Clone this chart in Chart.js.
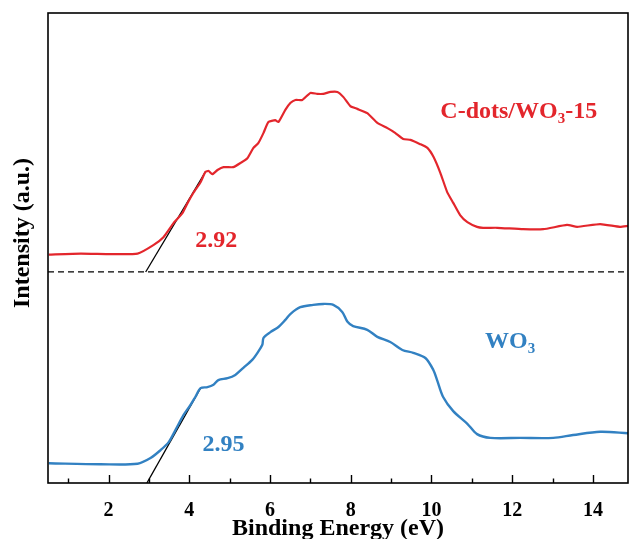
<!DOCTYPE html>
<html>
<head>
<meta charset="utf-8">
<script src="https://cdn.jsdelivr.net/npm/chart.js@4.4.1/dist/chart.umd.min.js"></script>
<style>
  html, body { margin: 0; padding: 0; background: #fff; }
  canvas { display: block; }
</style>
</head>
<body>
<canvas id="vb-chart" width="630" height="539"></canvas>
<script>
// Valence band XPS, binding energy (eV) vs intensity (a.u.)
const compositeEnergy = [0.52, 1.31, 2.05, 2.72, 3.11, 3.36, 3.61, 3.83, 3.96, 4.10, 4.28, 4.40, 4.48, 4.57, 4.70, 4.85, 5.09, 5.27, 5.44, 5.59, 5.71, 5.84, 5.96, 6.13, 6.21, 6.38, 6.51, 6.63, 6.80, 7.00, 7.17, 7.32, 7.50, 7.67, 7.82, 7.99, 8.16, 8.41, 8.66, 8.91, 9.10, 9.30, 9.48, 9.72, 9.90, 10.05, 10.22, 10.39, 10.54, 10.71, 10.89, 11.13, 11.28, 11.63, 12.27, 12.77, 13.36, 13.61, 14.18, 14.67, 14.87];
const compositeIntensity = [48.6, 48.8, 48.7, 48.8, 50.6, 52.3, 55.3, 57.4, 59.6, 61.7, 64.0, 66.2, 66.4, 65.7, 66.6, 67.2, 67.2, 68.1, 69.1, 71.3, 72.3, 74.5, 76.8, 77.2, 76.8, 79.4, 80.9, 81.5, 81.5, 83.0, 82.8, 82.8, 83.2, 83.2, 82.1, 80.2, 79.6, 78.7, 76.6, 75.5, 74.5, 73.2, 73.0, 72.1, 71.3, 69.4, 66.0, 61.9, 59.6, 57.0, 55.5, 54.5, 54.3, 54.3, 54.0, 54.0, 54.9, 54.5, 55.1, 54.5, 54.7];

const wo3Energy = [0.52, 1.80, 2.72, 3.04, 3.29, 3.49, 3.66, 3.86, 4.03, 4.15, 4.28, 4.45, 4.60, 4.72, 4.95, 5.14, 5.34, 5.56, 5.69, 5.81, 5.84, 6.01, 6.21, 6.38, 6.51, 6.75, 7.07, 7.32, 7.57, 7.79, 7.92, 8.06, 8.41, 8.66, 8.98, 9.28, 9.55, 9.85, 10.05, 10.14, 10.29, 10.54, 10.89, 11.13, 11.46, 12.20, 13.02, 13.51, 14.18, 14.87];
const wo3Intensity = [4.2, 4.0, 4.1, 5.3, 7.0, 8.7, 11.3, 14.5, 16.6, 18.3, 20.2, 20.4, 20.9, 21.9, 22.3, 23.0, 24.5, 26.2, 27.7, 29.4, 30.9, 32.1, 33.2, 34.7, 36.0, 37.4, 37.9, 38.1, 37.9, 36.4, 34.3, 33.4, 32.6, 31.1, 30.0, 28.3, 27.7, 26.6, 24.0, 21.9, 18.3, 15.3, 12.6, 10.4, 9.6, 9.6, 9.6, 10.2, 10.9, 10.6];

// linear extrapolation of the band edges
const compositeEdgeEnergy = [2.92, 4.40];
const compositeEdgeIntensity = [44.9, 66.2];
const wo3EdgeEnergy = [2.95, 4.28];
const wo3EdgeIntensity = [0, 20.2];

// separator between the two offset spectra
const separatorEnergy = [0.5, 14.87];
const separatorIntensity = [44.9, 44.9];

const xMajorTicks = [2, 4, 6, 8, 10, 12, 14];
const xMinorTicks = [1, 3, 5, 7, 9, 11, 13];

const RED = '#e3262c';
const BLUE = '#3281c2';
const FONT = '"Liberation Serif", "Times New Roman", serif';

const toPoints = (xs, ys) => xs.map((x, i) => ({ x: x, y: ys[i] }));

// text placed in data units
const annotations = [
    { parts: [['C-dots/WO', 0], ['3', 1], ['-15', 0]], x: 10.22, y: 77.7, color: RED },
    { parts: [['WO', 0], ['3', 1]], x: 11.33, y: 28.7, color: BLUE },
    { parts: [['2.92', 0]], x: 4.15, y: 50.2, color: RED },
    { parts: [['2.95', 0]], x: 4.33, y: 6.8, color: BLUE }
];

const decorations = {
    id: 'decorations',
    afterDatasetsDraw(chart) {
        const { ctx, chartArea: a, scales: { x, y } } = chart;
        ctx.save();

        // frame
        ctx.strokeStyle = '#000';
        ctx.lineWidth = 1.6;
        ctx.strokeRect(a.left, a.top, a.right - a.left, a.bottom - a.top);

        // inward ticks on the energy axis
        ctx.lineWidth = 1.4;
        ctx.beginPath();
        xMajorTicks.forEach(v => {
            const px = Math.round(x.getPixelForValue(v)) + 0.5;
            ctx.moveTo(px, a.bottom);
            ctx.lineTo(px, a.bottom - 8);
        });
        xMinorTicks.forEach(v => {
            const px = Math.round(x.getPixelForValue(v)) + 0.5;
            ctx.moveTo(px, a.bottom);
            ctx.lineTo(px, a.bottom - 4.5);
        });
        ctx.stroke();

        // curve labels
        ctx.textAlign = 'left';
        ctx.textBaseline = 'alphabetic';
        annotations.forEach(ann => {
            let px = x.getPixelForValue(ann.x);
            const py = y.getPixelForValue(ann.y);
            ctx.fillStyle = ann.color;
            ann.parts.forEach(([txt, sub]) => {
                ctx.font = sub ? `bold 15px ${FONT}` : `bold 24px ${FONT}`;
                ctx.fillText(txt, px, sub ? py + 5 : py);
                px += ctx.measureText(txt).width;
            });
        });

        // y title
        ctx.fillStyle = '#000';
        ctx.font = `bold 24px ${FONT}`;
        ctx.textAlign = 'center';
        ctx.textBaseline = 'middle';
        ctx.translate(23, 233);
        ctx.rotate(-Math.PI / 2);
        ctx.fillText('Intensity (a.u.)', 0, 0);

        ctx.restore();
    }
};

const ctx = document.getElementById('vb-chart');

new Chart(ctx, {
    type: 'line',
    data: {
        datasets: [
            {
                label: 'C-dots/WO3-15',
                data: toPoints(compositeEnergy, compositeIntensity),
                borderColor: RED,
                borderWidth: 2.2,
                tension: 0.15
            },
            {
                label: 'WO3',
                data: toPoints(wo3Energy, wo3Intensity),
                borderColor: BLUE,
                borderWidth: 2.4,
                tension: 0.3
            },
            {
                label: 'separator',
                data: toPoints(separatorEnergy, separatorIntensity),
                borderColor: '#000',
                borderWidth: 1.2,
                borderDash: [6, 4]
            },
            {
                label: 'edge C-dots/WO3-15',
                data: toPoints(compositeEdgeEnergy, compositeEdgeIntensity),
                borderColor: '#000',
                borderWidth: 1.3
            },
            {
                label: 'edge WO3',
                data: toPoints(wo3EdgeEnergy, wo3EdgeIntensity),
                borderColor: '#000',
                borderWidth: 1.3
            }
        ]
    },
    options: {
        responsive: false,
        animation: false,
        events: [],
        elements: { point: { radius: 0 } },
        layout: { padding: { left: 48, top: 13, right: 2, bottom: 0 } },
        plugins: {
            legend: { display: false },
            tooltip: { enabled: false }
        },
        scales: {
            x: {
                type: 'linear',
                min: 0.5,
                max: 14.87,
                grid: { display: false, drawTicks: false },
                border: { display: false },
                afterBuildTicks: (scale) => {
                    scale.ticks = xMajorTicks.map(v => ({ value: v }));
                },
                afterFit: (scale) => { scale.height = 56; },
                ticks: {
                    padding: 16,
                    color: '#000',
                    font: { family: FONT, size: 20, weight: 'bold' }
                },
                title: {
                    display: true,
                    text: 'Binding Energy (eV)',
                    color: '#000',
                    padding: 0,
                    font: { family: FONT, size: 24, weight: 'bold', lineHeight: 0.84 }
                }
            },
            y: {
                display: false,
                min: 0,
                max: 100
            }
        }
    },
    plugins: [decorations]
});
</script>
</body>
</html>
